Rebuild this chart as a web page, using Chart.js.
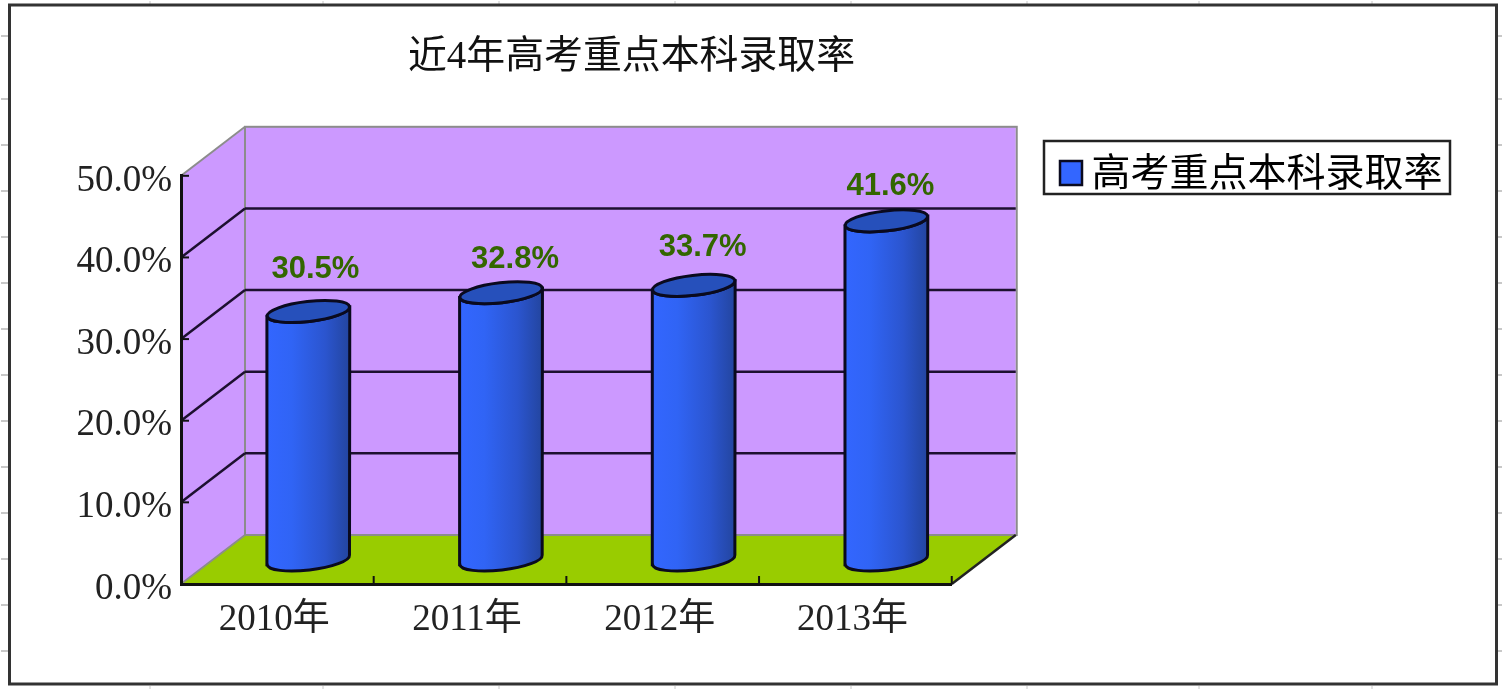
<!DOCTYPE html>
<html>
<head>
<meta charset="utf-8">
<title>近4年高考重点本科录取率</title>
<script src="https://cdn.jsdelivr.net/npm/chart.js@4"></script>
<style>
  html, body { margin: 0; background: #fff; }
  canvas { display: block; }
</style>
</head>
<body>
<canvas id="rateChart" width="1502" height="690"></canvas>
<script>
// data
const categories = ["2010年", "2011年", "2012年", "2013年"];
const rates = [30.5, 32.8, 33.7, 41.6];
const seriesName = "高考重点本科录取率";
const chartTitle = "近4年高考重点本科录取率";
const yTicks = [0, 10, 20, 30, 40, 50];

// hand-placed value labels in the original, shift from the cylinder top
const labelShiftX = [7, 14, 9, 4];
const labelShiftY = [-42, -33, -38, -34];

// the small stubs around the outer frame
const frameStubsY = [36, 99, 145, 191, 237, 283, 329, 375, 421, 467, 513, 559, 605, 651];
const frameStubsX = [150, 323, 499, 675, 851, 1027, 1199, 1372];

const SERIF = '"Liberation Serif", "Noto Sans CJK SC"';
const depthX = 64;   // 3d box depth
const depthY = 49;

function poly(ctx, pts) {
  ctx.beginPath();
  pts.forEach((p, i) => (i ? ctx.lineTo(p[0], p[1]) : ctx.moveTo(p[0], p[1])));
  ctx.closePath();
}

function line(ctx, x1, y1, x2, y2) {
  ctx.beginPath();
  ctx.moveTo(x1, y1);
  ctx.lineTo(x2, y2);
  ctx.stroke();
}

function drawFrame(ctx) {
  ctx.strokeStyle = "#c8c8c8";
  ctx.lineWidth = 2;
  frameStubsY.forEach((y) => {
    line(ctx, 1, y, 8, y);
    line(ctx, 1498, y, 1502, y);
  });
  ctx.lineWidth = 1;
  frameStubsX.forEach((x) => {
    line(ctx, x, 1, x, 4);
    line(ctx, x, 686, x, 689);
  });
  ctx.strokeStyle = "#333";
  ctx.lineWidth = 3;
  ctx.strokeRect(9.5, 5, 1487, 679);
}

function drawBox(chart) {
  const { ctx, chartArea: a } = chart;
  const y = chart.scales.y;
  const x0 = a.left, x1 = a.right, top = a.top, bot = a.bottom;

  // side wall
  ctx.fillStyle = "#cc99ff";
  poly(ctx, [[x0, bot], [x0 + depthX, bot - depthY], [x0 + depthX, top - depthY + 1], [x0, top]]);
  ctx.fill();
  // back wall
  ctx.fillRect(x0 + depthX, top - depthY, x1 - x0, bot - top);
  // floor
  ctx.fillStyle = "#99cc00";
  poly(ctx, [[x0, bot], [x1, bot], [x1 + depthX + 1, bot - depthY], [x0 + depthX, bot - depthY]]);
  ctx.fill();

  // gray outline of the walls
  ctx.strokeStyle = "#8c8c8c";
  ctx.lineWidth = 2;
  ctx.strokeRect(x0 + depthX, top - depthY, x1 - x0 + 1, bot - top);
  line(ctx, x0, top, x0 + depthX, top - depthY);
  line(ctx, x0, bot, x0 + depthX, bot - depthY);
  ctx.strokeStyle = "#222";
  ctx.lineWidth = 2.5;
  line(ctx, x1, bot, x1 + depthX, bot - depthY);

  // gridlines run along the side wall and the back wall
  ctx.strokeStyle = "#1d1030";
  yTicks.forEach((t) => {
    const py = y.getPixelForValue(t);
    if (t > 0 && t < 50) {
      ctx.lineWidth = 2.5;
      line(ctx, x0, py, x0 + depthX, py - depthY);
      line(ctx, x0 + depthX, py - depthY, x1 + depthX, py - depthY);
    }
  });
}

function drawAxisMarks(chart) {
  const { ctx, chartArea: a } = chart;
  const { x, y } = chart.scales;
  ctx.strokeStyle = "#111";
  ctx.lineWidth = 2;
  yTicks.forEach((t) => {
    const py = y.getPixelForValue(t);
    line(ctx, a.left, py, a.left + 8, py);
  });
  const step = (a.right - a.left) / categories.length;
  categories.forEach((c, i) => {
    const px = x.getPixelForValue(i) + step / 2;
    line(ctx, px, a.bottom, px, a.bottom - 8);
  });
}

function drawCylinder(ctx, cx, topY, baseY, rx) {
  const ry = 10;
  const tilt = -0.115;
  const dy = Math.sin(-tilt) * rx;

  const grad = ctx.createLinearGradient(cx - rx, 0, cx + rx, 0);
  grad.addColorStop(0, "#3366ff");
  grad.addColorStop(0.3, "#3064f5");
  grad.addColorStop(0.7, "#2b55cf");
  grad.addColorStop(1, "#23459f");

  ctx.beginPath();
  ctx.moveTo(cx - rx, topY + dy);
  ctx.lineTo(cx - rx, baseY + dy);
  ctx.ellipse(cx, baseY, rx, ry, tilt, Math.PI, 0, true);
  ctx.lineTo(cx + rx, topY - dy);
  ctx.ellipse(cx, topY, rx, ry, tilt, 0, Math.PI, false);
  ctx.closePath();
  ctx.fillStyle = grad;
  ctx.fill();
  ctx.strokeStyle = "#0a0a1e";
  ctx.lineWidth = 3;
  ctx.stroke();

  ctx.beginPath();
  ctx.ellipse(cx, topY, rx, ry, tilt, 0, Math.PI * 2);
  ctx.fillStyle = "#2650bb";
  ctx.fill();
  ctx.stroke();
}

const box3d = {
  id: "box3d",
  afterLayout(chart) {
    // title and legend sit off-centre in the original
    const t = chart.titleBlock;
    t.left = 408;
    t.right = 855;
    const l = chart.legend;
    const h = l.height;
    l.left = 1044;
    l.right = 1474;
    l.top = 140;
    l.bottom = 140 + h;
  },
  beforeDraw(chart) {
    const ctx = chart.ctx;
    ctx.save();
    drawFrame(ctx);
    drawBox(chart);
    // legend box + swatch
    ctx.fillStyle = "#fff";
    ctx.strokeStyle = "#222";
    ctx.lineWidth = 2.5;
    ctx.fillRect(1044, 141, 406, 53);
    ctx.strokeRect(1044, 141, 406, 53);
    ctx.fillStyle = "#3366ff";
    ctx.strokeStyle = "#0a0a1e";
    ctx.fillRect(1060, 161, 22, 24);
    ctx.strokeRect(1060, 161, 22, 24);
    ctx.restore();
  },
  beforeDatasetDraw(chart) {
    // cylinders replace the flat bars, see afterDatasetsDraw
    return false;
  },
  afterDatasetsDraw(chart) {
    const ctx = chart.ctx;
    ctx.save();
    drawAxisMarks(chart);
    const bars = chart.getDatasetMeta(0).data;
    const off = depthY / 2 - 1;
    bars.forEach((b, i) => {
      const cx = b.x + depthX / 2 - 1;
      const topY = b.y - off;
      drawCylinder(ctx, cx, topY, b.base - off, b.width / 2);
      ctx.fillStyle = "#336600";
      ctx.font = 'bold 31px "Liberation Sans"';
      ctx.textAlign = "center";
      ctx.textBaseline = "middle";
      ctx.fillText(rates[i].toFixed(1) + "%", cx + labelShiftX[i], topY + labelShiftY[i]);
    });
    ctx.restore();
  },
};

new Chart(document.getElementById("rateChart"), {
  type: "bar",
  data: {
    labels: categories,
    datasets: [
      {
        label: seriesName,
        data: rates,
        backgroundColor: "#3366ff",
        barPercentage: 0.43,
        categoryPercentage: 1,
      },
    ],
  },
  options: {
    responsive: false,
    animation: false,
    layout: { padding: { left: 0, right: 233, top: 0, bottom: 0 } },
    plugins: {
      tooltip: { enabled: false },
      title: {
        display: true,
        text: chartTitle,
        color: "#111",
        font: { family: SERIF, size: 39, weight: "normal" },
        padding: { top: 34, bottom: 95 },
      },
      legend: {
        position: "right",
        align: "start",
        labels: {
          color: "#111",
          font: { family: SERIF, size: 39 },
          boxWidth: 12,
          padding: 16,
          generateLabels: (chart) => [
            { text: seriesName, fillStyle: "rgba(0,0,0,0)", strokeStyle: "rgba(0,0,0,0)", lineWidth: 0, datasetIndex: 0 },
          ],
        },
      },
    },
    scales: {
      x: {
        afterFit: (s) => { s.height = 106; },
        grid: { drawOnChartArea: false, drawTicks: false },
        border: { color: "#111", width: 3 },
        ticks: {
          color: "#222",
          font: { family: SERIF, size: 37 },
          padding: 14,
          labelOffset: -3,
          maxRotation: 0,
        },
      },
      y: {
        min: 0,
        max: 50,
        afterFit: (s) => { s.width = 181; },
        grid: { drawOnChartArea: false, drawTicks: false },
        border: { color: "#111", width: 3 },
        ticks: {
          stepSize: 10,
          color: "#222",
          font: { family: SERIF, size: 37 },
          padding: 9,
          labelOffset: 5,
          callback: (v) => v.toFixed(1) + "%",
        },
      },
    },
  },
  plugins: [box3d],
});
</script>
</body>
</html>
